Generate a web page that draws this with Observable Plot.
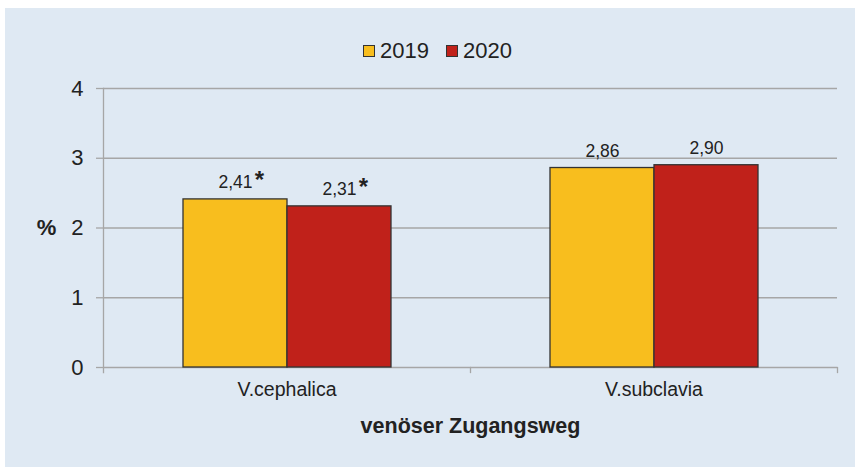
<!DOCTYPE html>
<html>
<head>
<meta charset="utf-8">
<script src="https://cdn.jsdelivr.net/npm/d3@7"></script>
<script src="https://cdn.jsdelivr.net/npm/@observablehq/plot@0.6"></script>
<style>
  html, body { margin: 0; padding: 0; background: #ffffff; }
  #wrap { position: absolute; left: 5px; top: 8px; width: 850px; height: 459px; background: #dfe9f3;
          font-family: "Liberation Sans", Arial, sans-serif; color: #222; overflow: hidden; }
  #legend { position: absolute; left: 358px; top: 30px; height: 26px; display: flex; align-items: center;
            font-size: 22px; line-height: 26px; }
  .item { display: flex; align-items: center; margin-right: 17px; }
  .sw { width: 10px; height: 10px; border: 1px solid #333; margin-right: 5px; }
  #chart { position: absolute; left: 0; top: 62px; }
</style>
</head>
<body>
<div id="wrap">
  <div id="legend"></div>
  <div id="chart"></div>
</div>
<script>
// ---- data ----
const categories = ["V.cephalica", "V.subclavia"];
const years = ["2019", "2020"];
const values2019 = [2.41, 2.86];
const values2020 = [2.31, 2.90];
const significant2019 = [true, false];
const significant2020 = [true, false];
const yTicks = [0, 1, 2, 3, 4];
const seriesColors = ["#f8be1e", "#c0211a"];
const yUnit = "%";
const xTitle = "venöser Zugangsweg";

// ---- build table ----
const rows = [];
categories.forEach((c, i) => {
  rows.push({cat: c, year: years[0], value: values2019[i], sig: significant2019[i]});
  rows.push({cat: c, year: years[1], value: values2020[i], sig: significant2020[i]});
});
const fmt = v => d3.format(".2f")(v).replace(".", ",");

// ---- legend ----
const legend = document.getElementById("legend");
years.forEach((y, i) => {
  const it = document.createElement("div");
  it.className = "item";
  const sw = document.createElement("div");
  sw.className = "sw";
  sw.style.background = seriesColors[i];
  const t = document.createElement("span");
  t.textContent = y;
  it.appendChild(sw); it.appendChild(t);
  legend.appendChild(it);
});

// ---- chart ----
const W = 850, H = 397, mT = 18, mB = 100, mL = 97, mR = 18;
const gridColor = "#a6a6a6";
const chart = Plot.plot({
  width: W, height: H,
  marginTop: mT, marginBottom: mB, marginLeft: mL, marginRight: mR,
  style: {background: "transparent", fontFamily: "Liberation Sans, Arial, sans-serif", color: "#222", overflow: "visible"},
  fx: {domain: categories, padding: 0, label: null, axis: null},
  x: {domain: years, paddingInner: 0, paddingOuter: 0.75, axis: null},
  y: {domain: [0, 4], label: null, axis: null},
  color: {domain: years, range: seriesColors},
  marks: [
    Plot.gridY(yTicks, {stroke: gridColor, strokeOpacity: 1, strokeWidth: 1.3}),
    Plot.frame({anchor: "left", facet: "super", stroke: gridColor, strokeOpacity: 1, strokeWidth: 1.3, insetBottom: -5}),
    Plot.frame({anchor: "right", stroke: gridColor, strokeOpacity: 1, strokeWidth: 1.3, insetTop: H - mT - mB, insetBottom: -5}),
    Plot.axisY({ticks: yTicks, tickSize: 7, tickPadding: 13, fontSize: 22, stroke: gridColor, strokeWidth: 1.3, label: null, tickFormat: d => d}),
    Plot.axisFx({anchor: "bottom", tickSize: 0, tickPadding: 15, fontSize: 19.5, label: null}),
    Plot.barY(rows, {fx: "cat", x: "year", y: "value", fill: "year", stroke: "#333", strokeWidth: 1.3}),
    Plot.text(rows, {fx: "cat", x: "year", y: "value", text: d => fmt(d.value), dy: -17, fontSize: 17.5, fill: "#222"}),
    Plot.text(rows.filter(d => d.sig), {fx: "cat", x: "year", y: "value", text: () => "*", dx: 24, dy: -19, fontSize: 24, fontWeight: "bold", fill: "#222"}),
    Plot.text([{cat: categories[0], t: yUnit}], {fx: "cat", text: "t", frameAnchor: "left", textAnchor: "middle", dx: -57, fontSize: 22, fontWeight: "bold", fill: "#222"}),
    Plot.text([xTitle], {facet: "super", frameAnchor: "bottom", dy: 65, fontSize: 21.5, fontWeight: "bold", fill: "#222"})
  ]
});
document.getElementById("chart").appendChild(chart);
</script>
</body>
</html>
